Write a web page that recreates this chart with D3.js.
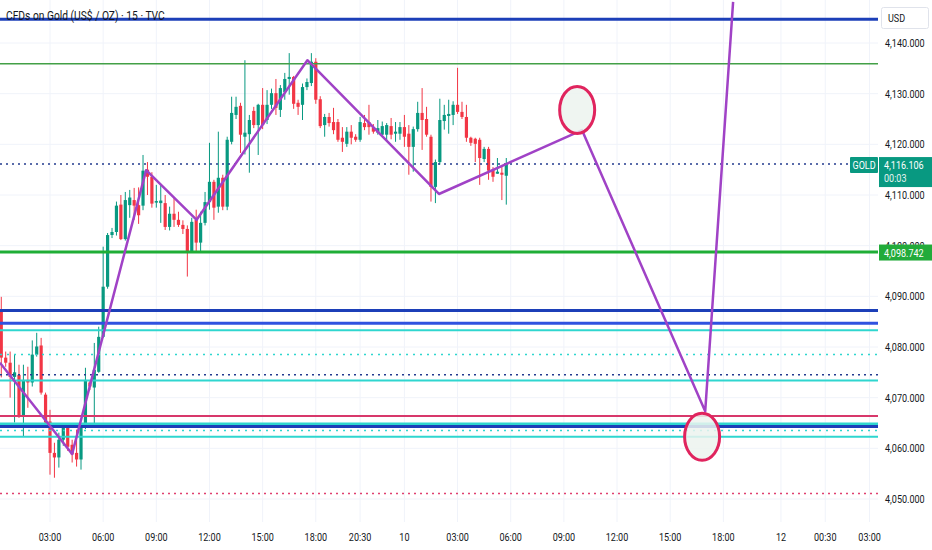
<!DOCTYPE html>
<html>
<head>
<meta charset="utf-8">
<script src="https://cdn.jsdelivr.net/npm/d3@7"></script>
<style>
  body { margin: 0; background: #fff; }
  svg { display: block; }
  .axis-label { font-family: "Roboto", sans-serif; font-size: 11px; fill: #131722; }
  .title { font-family: "Roboto", sans-serif; font-size: 12.5px; fill: #131722; }
</style>
</head>
<body>
<script>
const width = 932, height = 550;
const paneW = 878, paneH = 522;

// candles, 15 min bars, first bar index = 1
const firstBar = 1;
const candleOpen = [4087.5,4077.9,4076.9,4074.1,4074.5,4066.2,4073.5,4073.0,4078.5,4080.3,
  4070.6,4065.3,4059.1,4058.2,4061.7,4064.3,4060.7,4059.1,4057.8,4064.1,
  4073.0,4072.0,4075.1,4082.0,4091.9,4102.1,4102.7,4108.1,4101.3,4108.0,
  4109.0,4108.0,4107.9,4115.0,4113.6,4108.5,4108.4,4108.4,4103.7,4106.3,
  4105.1,4104.1,4103.3,4098.8,4105.1,4100.6,4104.5,4108.6,4112.6,4107.7,
  4113.4,4107.7,4120.5,4125.8,4127.6,4121.5,4122.0,4126.6,4123.8,4127.8,
  4124.8,4127.8,4130.1,4126.8,4130.3,4132.9,4133.3,4128.2,4127.8,4131.3,
  4132.1,4136.3,4128.9,4123.8,4125.4,4124.4,4124.4,4121.3,4120.1,4122.5,
  4121.5,4120.9,4124.2,4124.4,4123.4,4122.3,4121.9,4121.9,4123.6,4122.1,
  4122.1,4123.4,4122.1,4119.5,4123.0,4126.2,4125.0,4121.5,4111.6,4116.5,
  4124.6,4125.6,4125.8,4127.8,4126.4,4125.4,4121.3,4121.1,4120.9,4117.1,
  4119.1,4115.0,4114.2,4114.4,4113.8];
const candleHigh = [4089.9,4079.1,4079.1,4078.5,4076.5,4076.5,4076.1,4081.3,4082.8,4081.8,
  4071.0,4067.6,4061.1,4063.1,4064.3,4064.5,4061.7,4063.7,4064.3,4075.9,
  4073.5,4080.8,4084.0,4099.8,4102.5,4103.5,4108.7,4110.0,4110.6,4111.0,
  4111.4,4111.5,4117.9,4116.5,4114.5,4112.0,4112.0,4110.0,4107.7,4109.4,
  4106.7,4105.0,4104.0,4105.5,4107.1,4106.7,4110.6,4120.3,4113.0,4122.5,
  4114.0,4121.5,4129.4,4129.4,4128.2,4136.6,4125.8,4127.4,4128.0,4131.1,
  4130.7,4131.0,4132.9,4131.7,4134.1,4138.0,4133.5,4128.8,4132.0,4133.0,
  4138.0,4137.0,4129.5,4126.0,4126.2,4127.2,4125.0,4123.4,4123.4,4123.8,
  4122.0,4125.4,4125.8,4127.8,4124.0,4124.8,4124.5,4124.2,4125.2,4124.4,
  4124.4,4125.8,4123.8,4123.5,4128.4,4131.1,4127.4,4121.9,4117.0,4129.0,
  4127.8,4128.8,4128.5,4135.1,4128.4,4127.8,4121.5,4121.3,4121.3,4119.5,
  4119.5,4115.5,4117.3,4115.9,4117.3];
const candleLow = [4074.0,4076.1,4070.0,4065.1,4066.0,4062.3,4068.0,4072.2,4078.1,4070.6,
  4064.7,4054.8,4054.2,4056.2,4060.5,4059.5,4057.2,4056.4,4055.8,4063.8,
  4071.5,4064.7,4074.9,4081.8,4091.5,4101.5,4102.0,4101.1,4101.0,4105.5,
  4105.1,4104.3,4107.0,4110.0,4107.5,4107.5,4104.5,4103.1,4103.0,4103.7,
  4103.7,4102.3,4093.9,4098.6,4098.8,4098.8,4104.0,4107.1,4105.1,4106.5,
  4107.0,4107.0,4120.0,4125.0,4118.3,4118.0,4114.4,4123.2,4117.9,4123.0,
  4124.0,4127.0,4125.8,4125.4,4128.8,4129.8,4127.0,4125.8,4124.8,4130.7,
  4131.5,4128.0,4123.2,4121.5,4123.5,4122.0,4120.5,4118.5,4119.5,4120.0,
  4120.5,4120.5,4122.8,4121.9,4122.1,4121.9,4121.5,4120.5,4121.0,4120.5,
  4120.9,4119.5,4114.0,4114.6,4122.5,4118.9,4121.5,4108.7,4108.4,4116.0,
  4122.9,4122.1,4123.8,4126.0,4125.0,4120.5,4119.7,4116.5,4112.0,4116.5,
  4113.0,4112.6,4114.2,4109.0,4108.1];
const candleClose = [4077.9,4076.9,4074.1,4075.0,4066.2,4073.5,4073.0,4078.5,4080.1,4071.0,
  4065.1,4059.1,4058.2,4061.7,4064.1,4060.3,4058.8,4057.8,4064.1,4073.5,
  4072.2,4075.5,4082.0,4091.9,4102.1,4102.7,4107.9,4101.3,4109.0,4109.5,
  4107.9,4106.0,4114.8,4113.6,4108.3,4108.8,4108.9,4103.7,4106.3,4105.1,
  4104.1,4103.3,4098.8,4104.7,4100.6,4104.5,4108.6,4112.6,4107.5,4113.4,
  4107.7,4120.9,4126.2,4127.4,4121.9,4122.3,4124.8,4123.8,4127.8,4123.8,
  4127.8,4130.1,4127.2,4131.1,4132.9,4133.3,4128.0,4127.4,4131.3,4132.3,
  4136.3,4128.8,4123.6,4125.4,4124.2,4122.8,4120.9,4120.5,4122.5,4121.3,
  4120.9,4124.4,4123.4,4123.4,4122.5,4123.2,4123.6,4123.8,4121.9,4122.5,
  4123.4,4121.5,4119.5,4123.0,4126.2,4124.8,4121.9,4111.6,4116.5,4124.8,
  4125.8,4126.0,4127.8,4126.4,4125.4,4121.3,4120.3,4120.1,4117.3,4119.1,
  4114.8,4113.6,4114.6,4114.0,4116.106];

// axes
const priceTicks = [4050, 4060, 4070, 4080, 4090, 4100, 4110, 4120, 4130, 4140];
const timeTickBars = [12, 24, 36, 48, 60, 72, 82, 92, 104, 116, 128, 140, 152, 164, 177, 187, 197];
const timeTickLabels = ["03:00","06:00","09:00","12:00","15:00","18:00","20:30","10",
  "03:00","06:00","09:00","12:00","15:00","18:00","12","00:30","03:00"];

// horizontal levels drawn on the chart
const levelPrices = [4144.7, 4135.9, 4116.106, 4098.742, 4087.2, 4084.7, 4083.3, 4078.5,
  4074.5, 4073.4, 4066.4, 4064.8, 4064.3, 4063.5, 4062.3, 4051.1];
const levelStyle = [
  {c: "#1c3fb8", w: 3},
  {c: "#43a047", w: 1.5},
  {c: "#233b8f", w: 1.5, dash: "2,4", end: 848},
  {c: "#1fae36", w: 3},
  {c: "#1c3fb8", w: 3},
  {c: "#2f52e0", w: 3},
  {c: "#2fd6cf", w: 2},
  {c: "#2fd6cf", w: 1.5, dash: "2,5"},
  {c: "#233b8f", w: 1.5, dash: "2,4"},
  {c: "#2fd6cf", w: 2},
  {c: "#d8386b", w: 2},
  {c: "#2fd6cf", w: 3},
  {c: "#1c3fb8", w: 3},
  {c: "#2fd6cf", w: 1.5, dash: "2,5"},
  {c: "#2fd6cf", w: 2},
  {c: "#e04070", w: 1.5, dash: "2,4"}
];

// drawn projection path and target ellipses
const pathBars = [0.7, 17, 33.7, 45.1, 70.1, 99.8, 132.1, 159.9, 166.2];
const pathPrices = [4076.9, 4058.9, 4114.9, 4105.1, 4136.6, 4110.2, 4122.8, 4067.3, 4148.1];
const targetBars = [131.0, 159.2];
const targetPrices = [4126.8, 4062.3];

const lastPrice = 4116.106;
const levelTag = 4098.742;

const svg = d3.select("body").append("svg")
  .attr("width", width)
  .attr("height", height);

const x = d3.scaleLinear().domain([0, 200]).range([-3.16, -3.16 + 4.43 * 200]);
const y = d3.scaleLinear().domain([4050, 4140]).range([499, 43]);

svg.append("defs").append("clipPath").attr("id", "pane")
  .append("rect").attr("x", 0).attr("y", 0).attr("width", paneW).attr("height", paneH);

// grid
const grid = svg.append("g").attr("clip-path", "url(#pane)");
grid.selectAll(".hgrid").data(priceTicks).enter().append("line")
  .attr("x1", 0).attr("x2", paneW)
  .attr("y1", d => y(d)).attr("y2", d => y(d))
  .attr("stroke", "#f0f3fa").attr("stroke-width", 1);
grid.selectAll(".vgrid").data(timeTickBars).enter().append("line")
  .attr("x1", d => x(d)).attr("x2", d => x(d))
  .attr("y1", 0).attr("y2", paneH)
  .attr("stroke", "#f0f3fa").attr("stroke-width", 1);

// candles
const candles = candleOpen.map((o, k) => ({
  i: firstBar + k, o, h: candleHigh[k], l: candleLow[k], c: candleClose[k]
}));
const up = "#089981", down = "#f23645";
const cg = svg.append("g").attr("clip-path", "url(#pane)");
cg.selectAll(".wick").data(candles).enter().append("line")
  .attr("x1", d => x(d.i)).attr("x2", d => x(d.i))
  .attr("y1", d => y(d.h)).attr("y2", d => y(d.l))
  .attr("stroke", d => d.c >= d.o ? up : down)
  .attr("stroke-width", 1);
cg.selectAll(".body").data(candles).enter().append("rect")
  .attr("x", d => x(d.i) - 1.6)
  .attr("width", 3.2)
  .attr("y", d => y(Math.max(d.o, d.c)))
  .attr("height", d => Math.max(1, Math.abs(y(d.o) - y(d.c))))
  .attr("fill", d => d.c >= d.o ? up : down);

// level lines
const lg = svg.append("g");
lg.selectAll(".level").data(levelPrices).enter().append("line")
  .attr("x1", 0)
  .attr("x2", (d, k) => levelStyle[k].end || paneW)
  .attr("y1", d => y(d)).attr("y2", d => y(d))
  .attr("stroke", (d, k) => levelStyle[k].c)
  .attr("stroke-width", (d, k) => levelStyle[k].w)
  .attr("stroke-dasharray", (d, k) => levelStyle[k].dash || null);

// projection path
const pathData = pathBars.map((b, k) => [b, pathPrices[k]]);
const line = d3.line().x(d => x(d[0])).y(d => y(d[1]));
svg.append("g").attr("clip-path", "url(#pane)")
  .append("path")
  .attr("d", line(pathData))
  .attr("fill", "none")
  .attr("stroke", "#a042c6")
  .attr("stroke-width", 2.5)
  .attr("stroke-linejoin", "round");

// target ellipses
svg.selectAll(".target").data(targetBars).enter().append("ellipse")
  .attr("cx", d => x(d))
  .attr("cy", (d, k) => y(targetPrices[k]))
  .attr("rx", 17.5).attr("ry", 23.5)
  .attr("fill", "rgba(236,243,239,0.85)")
  .attr("stroke", "#e0245e")
  .attr("stroke-width", 3);

// title
svg.append("text").attr("class", "title narrow")
  .attr("x", 6).attr("y", 20)
  .text("CFDs on Gold (US$ / OZ) \u00b7 15 \u00b7 TVC");

// price axis
const pa = svg.append("g");
pa.selectAll(".plabel").data(priceTicks).enter().append("text")
  .attr("class", "axis-label narrow")
  .attr("x", 885).attr("y", d => y(d) + 4)
  .text(d => d3.format(",.3f")(d));

pa.append("rect").attr("x", 881.5).attr("y", 7.5).attr("width", 47).attr("height", 21)
  .attr("rx", 2).attr("fill", "#fff").attr("stroke", "#e0e3eb");
pa.append("text").attr("class", "axis-label narrow").attr("x", 888).attr("y", 22).text("USD");

// last price tags
const ly = y(lastPrice);
pa.append("rect").attr("x", 850).attr("y", ly - 7).attr("width", 28).attr("height", 16)
  .attr("rx", 1).attr("fill", "#089981");
pa.append("text").attr("class", "axis-label narrow").attr("x", 852.5).attr("y", ly + 5)
  .style("fill", "#fff").text("GOLD");
pa.append("rect").attr("x", 879).attr("y", ly - 7).attr("width", 53).attr("height", 30)
  .attr("fill", "#089981");
pa.append("text").attr("class", "axis-label narrow").attr("x", 884).attr("y", ly + 5)
  .style("fill", "#fff").text(d3.format(",.3f")(lastPrice));
pa.append("text").attr("class", "axis-label narrow").attr("x", 884).attr("y", ly + 18)
  .style("fill", "#e6f4f1").text("00:03");

const gy = y(levelTag);
pa.append("rect").attr("x", 879).attr("y", gy - 7.5).attr("width", 53).attr("height", 16)
  .attr("fill", "#22ab3a");
pa.append("text").attr("class", "axis-label narrow").attr("x", 884).attr("y", gy + 4.5)
  .style("fill", "#fff").text(d3.format(",.3f")(levelTag));

// time axis
svg.selectAll(".tlabel").data(timeTickBars).enter().append("text")
  .attr("class", "axis-label narrow")
  .attr("x", d => x(d)).attr("y", 541)
  .attr("text-anchor", "middle")
  .text((d, k) => timeTickLabels[k]);

// the screenshot font is condensed: squeeze glyphs horizontally
svg.selectAll("text.narrow").each(function() {
  const len = this.getComputedTextLength();
  d3.select(this).attr("textLength", len * 0.82).attr("lengthAdjust", "spacingAndGlyphs");
});
</script>
</body>
</html>
